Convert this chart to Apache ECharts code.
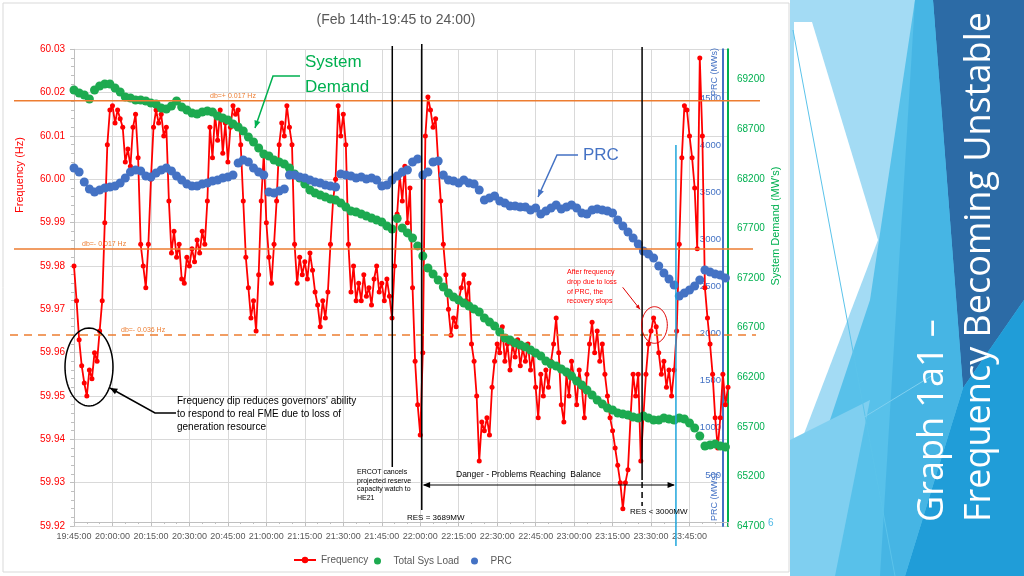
<!DOCTYPE html>
<html><head><meta charset="utf-8">
<script src="https://cdn.jsdelivr.net/npm/echarts@6/dist/echarts.min.js"></script>
<style>html,body{margin:0;padding:0;background:#fff;}#c{width:1024px;height:576px;}</style>
</head><body><div id="c"></div>
<script>
// ---- data (minutes after 19:45) ----
const startMinute = 19 * 60 + 45;
const xTickInterval = 15;
const freqLabels = ['59.92','59.93','59.94','59.95','59.96','59.97','59.98','59.99','60.00','60.01','60.02','60.03'];
const demandTicks = [64700,65200,65700,66200,66700,67200,67700,68200,68700,69200];
const prcTicks = [500,1000,1500,2000,2500,3000,3500,4000,4500];
// Frequency, one value per minute (19:45 .. 24:00)
const freq = [
59.980,59.972,59.963,59.957,59.953,59.950,59.956,59.954,59.960,59.958,59.965,59.972,59.990,60.008,60.016,
60.017,60.013,60.016,60.014,60.012,60.004,60.007,60.003,60.012,60.015,60.005,59.985,59.980,59.975,59.985,
60.000,60.012,60.016,60.013,60.015,60.010,60.012,59.995,59.983,59.988,59.982,59.985,59.977,59.976,59.982,
59.980,59.984,59.981,59.986,59.983,59.988,59.985,59.995,60.012,60.005,60.015,60.009,60.016,60.006,60.013,
60.004,60.012,60.017,60.015,60.016,60.008,59.995,59.982,59.975,59.968,59.972,59.965,59.978,59.995,60.006,
59.990,59.982,59.976,59.985,59.995,60.008,60.013,60.010,60.017,60.012,60.008,59.985,59.976,59.982,59.978,
59.981,59.977,59.983,59.979,59.974,59.971,59.966,59.972,59.968,59.974,59.985,59.995,60.000,60.017,60.010,
60.015,60.008,59.985,59.974,59.980,59.972,59.976,59.972,59.978,59.973,59.975,59.971,59.977,59.980,59.974,
59.976,59.972,59.977,59.973,59.968,59.980,59.992,60.001,59.995,60.003,59.990,59.998,59.975,59.958,59.948,
59.941,59.960,60.010,60.019,60.016,60.012,60.014,60.004,59.995,59.985,59.978,59.970,59.964,59.968,59.966,
59.972,59.975,59.978,59.972,59.976,59.962,59.958,59.950,59.935,59.944,59.942,59.945,59.941,59.952,59.958,
59.962,59.960,59.966,59.958,59.962,59.956,59.962,59.959,59.963,59.957,59.961,59.958,59.962,59.956,59.960,
59.952,59.945,59.955,59.950,59.956,59.952,59.958,59.962,59.968,59.960,59.948,59.944,59.955,59.950,59.958,
59.954,59.948,59.956,59.952,59.945,59.955,59.962,59.967,59.960,59.965,59.958,59.962,59.955,59.950,59.945,
59.942,59.938,59.934,59.930,59.924,59.930,59.933,59.945,59.955,59.950,59.955,59.935,59.945,59.955,59.962,
59.965,59.968,59.966,59.960,59.955,59.958,59.952,59.956,59.950,59.956,59.965,59.985,60.005,60.017,60.016,
60.010,60.005,59.998,59.984,60.028,60.010,59.975,59.968,59.962,59.955,59.945,59.938,59.945,59.955,59.948,59.952
];
// Total system load (MW), one value every 2 minutes
const demandStep = 2;
const demand = [
69095,69065,69044,69004,69095,69135,69155,69155,69115,69075,
69024,69014,68994,68994,68984,68964,68954,68913,68903,68933,
68984,68923,68893,68863,68853,68873,68883,68873,68833,68813,
68792,68752,68722,68682,68621,68571,68510,68450,68430,68389,
68369,68349,68309,68248,68208,68147,68087,68057,68036,68016,
67996,67986,67956,67916,67875,67865,67845,67825,67804,67784,
67764,67724,67694,67800,67704,67654,67603,67523,67422,67300,
67240,67180,67109,67049,67008,66978,66948,66918,66887,66857,
66797,66756,66716,66656,66595,66575,66545,66525,66504,66474,
66444,66414,66363,66333,66313,66282,66252,66212,66162,66121,
66071,66020,65970,65930,65889,65869,65839,65829,65819,65799,
65789,65809,65789,65768,65768,65789,65778,65768,65789,65778,
65738,65688,65607,65506,65516,65527,65506,65496
];
// PRC (MW), one value every 2 minutes
const prc = [
3758,3716,3609,3535,3503,3524,3546,3556,3567,3599,
3652,3716,3737,3727,3673,3663,3705,3737,3758,3727,
3673,3631,3588,3567,3567,3588,3599,3620,3631,3652,
3663,3684,3811,3843,3822,3758,3716,3684,3503,3492,
3514,3535,3684,3684,3663,3652,3631,3610,3599,3578,
3567,3556,3694,3684,3673,3652,3663,3641,3652,3631,
3567,3578,3631,3673,3716,3737,3822,3854,3684,3716,
3822,3832,3684,3631,3620,3599,3631,3599,3588,3524,
3418,3439,3461,3408,3386,3355,3355,3344,3344,3312,
3333,3270,3302,3333,3365,3323,3344,3365,3333,3280,
3270,3312,3323,3312,3302,3280,3206,3142,3079,3015,
2951,2877,2845,2803,2718,2643,2580,2516,2399,2431,
2463,2505,2569,2675,2654,2633,2622,2590
];
// deadband thresholds (Hz) and event times (minutes after 19:45)
const thresholds = [60.0181, 59.9839, 59.9641];
const thresholdNames = ['db=+ 0.017 Hz', 'db=- 0.017 Hz', 'db=- 0.036 Hz'];
const eventMinutes = [124.1, 135.6, 221.5, 234.7];

function timeLabel(m) {
  const t = startMinute + Math.round(m);
  const h = Math.floor(t / 60) % 24, mm = t % 60;
  return String(h).padStart(2, '0') + ':' + String(mm).padStart(2, '0') + ':00';
}

const FONT = 'Liberation Sans, Arial, sans-serif';
const chart = echarts.init(document.getElementById('c'), null, {renderer: 'canvas'});
const option = {
  animation: false,
  backgroundColor: '#ffffff',
  grid: {left: 74, right: 296, top: 49.3, bottom: 50, containLabel: false},
  legend: [
    {data: ['Frequency'], left: 288, top: 550, itemWidth: 22, itemHeight: 8, itemGap: 5,
     textStyle: {color: '#595959', fontSize: 10, fontFamily: FONT}},
    {data: [{name: 'Total Sys Load', icon: 'circle'}], left: 369, top: 551, itemWidth: 22, itemHeight: 7,
     textStyle: {color: '#595959', fontSize: 10, fontFamily: FONT}},
    {data: [{name: 'PRC', icon: 'circle'}], left: 466, top: 551, itemWidth: 22, itemHeight: 7,
     textStyle: {color: '#595959', fontSize: 10, fontFamily: FONT}}
  ],
  xAxis: {
    type: 'value', min: 0, max: 255, interval: xTickInterval,
    axisLine: {show: true, lineStyle: {color: '#bfbfbf'}},
    axisTick: {show: true, length: 4, lineStyle: {color: '#bfbfbf'}},
    minorTick: {show: true, splitNumber: 3, length: 2, lineStyle: {color: '#bfbfbf'}},
    splitLine: {show: true, lineStyle: {color: '#d9d9d9', width: 1}},
    axisLabel: {formatter: v => timeLabel(v), showMaxLabel: false, color: '#595959', fontSize: 9, margin: 6, fontFamily: FONT}
  },
  yAxis: [
    {
      type: 'value', min: 59.92, max: 60.03, interval: 0.01,
      axisLine: {show: true, lineStyle: {color: '#bfbfbf'}},
      axisTick: {show: true, length: 4, lineStyle: {color: '#bfbfbf'}},
      minorTick: {show: true, splitNumber: 5, length: 3, lineStyle: {color: '#bfbfbf'}},
      splitLine: {show: true, lineStyle: {color: '#d9d9d9', width: 1}},
      axisLabel: {color: '#ff0000', fontSize: 10, margin: 9, fontFamily: FONT,
        formatter: v => { const s = v.toFixed(2); return freqLabels.indexOf(s) >= 0 ? s : ''; }}
    },
    {
      type: 'value', position: 'right', min: 64700, max: 69505,
      axisLine: {show: true, lineStyle: {color: '#00b050', width: 2}},
      axisTick: {show: false}, splitLine: {show: false},
      axisLabel: {customValues: demandTicks, formatter: v => String(Math.round(v)), color: '#00b050', fontSize: 10, margin: 9, fontFamily: FONT}
    },
    {
      type: 'value', position: 'right', offset: -5, min: -42, max: 5018,
      axisLine: {show: true, onZero: false, lineStyle: {color: '#4472c4', width: 2}},
      axisTick: {show: false}, splitLine: {show: false},
      axisLabel: {customValues: prcTicks, formatter: v => String(Math.round(v)), inside: true, color: '#4472c4', fontSize: 9.5, margin: 2, fontFamily: FONT}
    }
  ],
  series: [
    {name: 'Frequency', type: 'line', xAxisIndex: 0, yAxisIndex: 0,
     data: freq.map((v, i) => [i, v]), symbol: 'circle', symbolSize: 5, showAllSymbol: true,
     lineStyle: {color: '#ff0000', width: 1.8}, itemStyle: {color: '#ff0000'}, z: 2},
    {name: 'Total Sys Load', type: 'scatter', xAxisIndex: 0, yAxisIndex: 1,
     data: demand.map((v, i) => [i * demandStep, v]), symbolSize: 9,
     itemStyle: {color: '#1daa50', opacity: 1}, z: 3},
    {name: 'PRC', type: 'scatter', xAxisIndex: 0, yAxisIndex: 2,
     data: prc.map((v, i) => [i * demandStep, v]), symbolSize: 9,
     itemStyle: {color: '#4472c4', opacity: 1}, z: 4}
  ]
};
chart.setOption(option);

// ---- annotations ----
const px = m => chart.convertToPixel({xAxisIndex: 0}, m);
const py = v => chart.convertToPixel({yAxisIndex: 0}, v);
const G = [];
function ln(x1, y1, x2, y2, stroke, w, dash, z) {
  G.push({type: 'line', silent: true, z: z || 50, shape: {x1, y1, x2, y2}, style: {stroke, lineWidth: w, lineDash: dash || null}});
}
function tx(x, y, t, o) {
  G.push(Object.assign({type: 'text', silent: true, z: 60, x, y,
    style: Object.assign({text: t, fill: '#000', fontSize: 10, fontFamily: FONT, textAlign: 'left', textVerticalAlign: 'middle'}, o.style || {})},
    o.rotation ? {rotation: o.rotation} : {}));
}
function head(x1, y1, x2, y2, color, size) {
  const a = Math.atan2(y2 - y1, x2 - x1), s = size || 7;
  const p1 = [x2 - s * Math.cos(a - 0.4), y2 - s * Math.sin(a - 0.4)];
  const p2 = [x2 - s * Math.cos(a + 0.4), y2 - s * Math.sin(a + 0.4)];
  G.push({type: 'polygon', silent: true, z: 55, shape: {points: [[x2, y2], p1, p2]}, style: {fill: color}});
}
function arrow(pts, color, w, size) {
  G.push({type: 'polyline', silent: true, z: 55, shape: {points: pts}, style: {stroke: color, lineWidth: w, fill: null}});
  const n = pts.length;
  head(pts[n - 2][0], pts[n - 2][1], pts[n - 1][0], pts[n - 1][1], color, size);
}
function ellipse(cx, cy, rx, ry, color, w) {
  const pts = [];
  for (let i = 0; i < 72; i++) { const t = i / 72 * Math.PI * 2; pts.push([cx + rx * Math.cos(t), cy + ry * Math.sin(t)]); }
  G.push({type: 'polygon', silent: true, z: 55, shape: {points: pts}, style: {stroke: color, lineWidth: w, fill: null}});
}

// right decorative panel
const panel = [
  {pts: [[790, 0], [1024, 0], [1024, 576], [790, 576]], fill: '#58c1ea'},
  {pts: [[790, 0], [915, 0], [870, 300], [790, 540]], fill: '#a3dbf4'},
  {pts: [[794, 22], [812, 22], [878, 240], [794, 460]], fill: '#ffffff'},
  {pts: [[790, 440], [870, 400], [835, 576], [790, 576]], fill: '#7fcff0'},
  {pts: [[933, 0], [1024, 0], [1024, 300], [963, 388]], fill: '#2c6ba6'},
  {pts: [[1024, 300], [963, 388], [905, 576], [1024, 576]], fill: '#209dd8'},
  {pts: [[915, 0], [933, 0], [963, 388], [905, 576], [880, 576]], fill: '#46b5e4'}
];
panel.forEach(p => G.push({type: 'polygon', silent: true, z: 1, shape: {points: p.pts}, style: {fill: p.fill}}));
ln(793, 30, 895, 576, '#5bc3ea', 1, null, 2);
ln(794, 460, 933, 375, '#7fd0f0', 1, null, 2);
tx(933, 522, 'Graph 1a1 –', {rotation: Math.PI / 2, style: {fill: '#ffffff', fontSize: 36, fontFamily: 'Open Sans, sans-serif', textAlign: 'left', textVerticalAlign: 'middle'}});
tx(980, 522, 'Frequency Becoming Unstable', {rotation: Math.PI / 2, style: {fill: '#ffffff', fontSize: 36, fontFamily: 'Open Sans, sans-serif', textAlign: 'left', textVerticalAlign: 'middle'}});
tx(768, 523, '6', {style: {fill: '#4fb9e6', fontSize: 10}});

// frame
G.push({type: 'rect', silent: true, z: 0, shape: {x: 3, y: 3, width: 786, height: 569}, style: {stroke: '#d9d9d9', fill: null, lineWidth: 1}});

// title
tx(396, 20, '(Feb 14th-19:45 to 24:00)', {style: {fill: '#595959', fontSize: 14, textAlign: 'center'}});

// axis names
tx(20, 175, 'Frequency (Hz)', {rotation: Math.PI / 2, style: {fill: '#ff0000', fontSize: 11, textAlign: 'center'}});
tx(776, 226, "System Demand (MW's)", {rotation: Math.PI / 2, style: {fill: '#00b050', fontSize: 11, textAlign: 'center'}});
tx(715, 72, 'PRC (MWs)', {rotation: Math.PI / 2, style: {fill: '#4472c4', fontSize: 9, textAlign: 'center'}});
tx(715, 497, 'PRC (MWs)', {rotation: Math.PI / 2, style: {fill: '#4472c4', fontSize: 9, textAlign: 'center'}});

// deadband lines
const thrExt = [[14, 760], [14, 753], [10, 756]];
const thrLabelX = [210, 82, 121];
thresholds.forEach((v, i) => {
  const y = py(v);
  ln(thrExt[i][0], y, thrExt[i][1], y, '#ed7d31', 1.5, i === 2 ? [8, 6] : null, 40);
  tx(thrLabelX[i], y - 5, thresholdNames[i], {style: {fill: '#ed7d31', fontSize: 7}});
});

// event lines
const e1 = px(eventMinutes[0]), e2 = px(eventMinutes[1]), e3 = px(eventMinutes[2]), e4 = px(eventMinutes[3]);
ln(e1, 46, e1, 467, '#000', 1.5);
ln(e2, 44, e2, 510, '#000', 1.5);
ln(e3, 47, e3, 480, '#000', 1.5);
ln(e3, 482, e3, 506, '#000', 1.5, [6, 4]);
ln(e4, 145, e4, 546, '#1fa6dc', 1.5);

// double arrow
ln(e2 + 2, 485, e4 - 2, 485, '#000', 1);
head(e4 - 20, 485, e4 - 1, 485, '#000', 8);
head(e2 + 20, 485, e2 + 1, 485, '#000', 8);
tx(456, 475, 'Danger - Problems Reaching  Balance', {style: {fontSize: 8.5}});
tx(357, 485, 'ERCOT cancels\nprojected reserve\ncapacity watch to\nHE21', {style: {fontSize: 7, lineHeight: 8.5}});
tx(407, 518, 'RES = 3689MW', {style: {fontSize: 8}});
tx(630, 512, 'RES < 3000MW', {style: {fontSize: 8}});

// dip annotation
ellipse(89, 367, 24, 39, '#000', 1.5);
arrow([[176, 413], [155, 413], [110, 388]], '#000', 1.5, 8);
tx(177, 414, "Frequency dip reduces governors' ability\nto respond to real FME due to loss of\ngeneration resource", {style: {fontSize: 10, lineHeight: 13}});

// PRC loss annotation
ellipse(654.5, 325, 12.8, 18.3, '#e00000', 1);
arrow([[622.7, 287.3], [640, 309.3]], '#e00000', 1, 5);
tx(567, 287, 'After frequency\ndrop due to loss\nof PRC, the\nrecovery stops', {style: {fill: '#ff0000', fontSize: 7, lineHeight: 9.7}});

// series call-outs
tx(305, 62, 'System', {style: {fill: '#00b050', fontSize: 17}});
tx(305, 87, 'Demand', {style: {fill: '#00b050', fontSize: 17}});
arrow([[300, 76], [273, 76], [255, 128]], '#00b050', 1.5, 8);
tx(583, 155, 'PRC', {style: {fill: '#4472c4', fontSize: 17}});
arrow([[578, 155], [557, 155], [538, 197]], '#4472c4', 1.5, 8);

chart.setOption({graphic: G});
</script></body></html>
